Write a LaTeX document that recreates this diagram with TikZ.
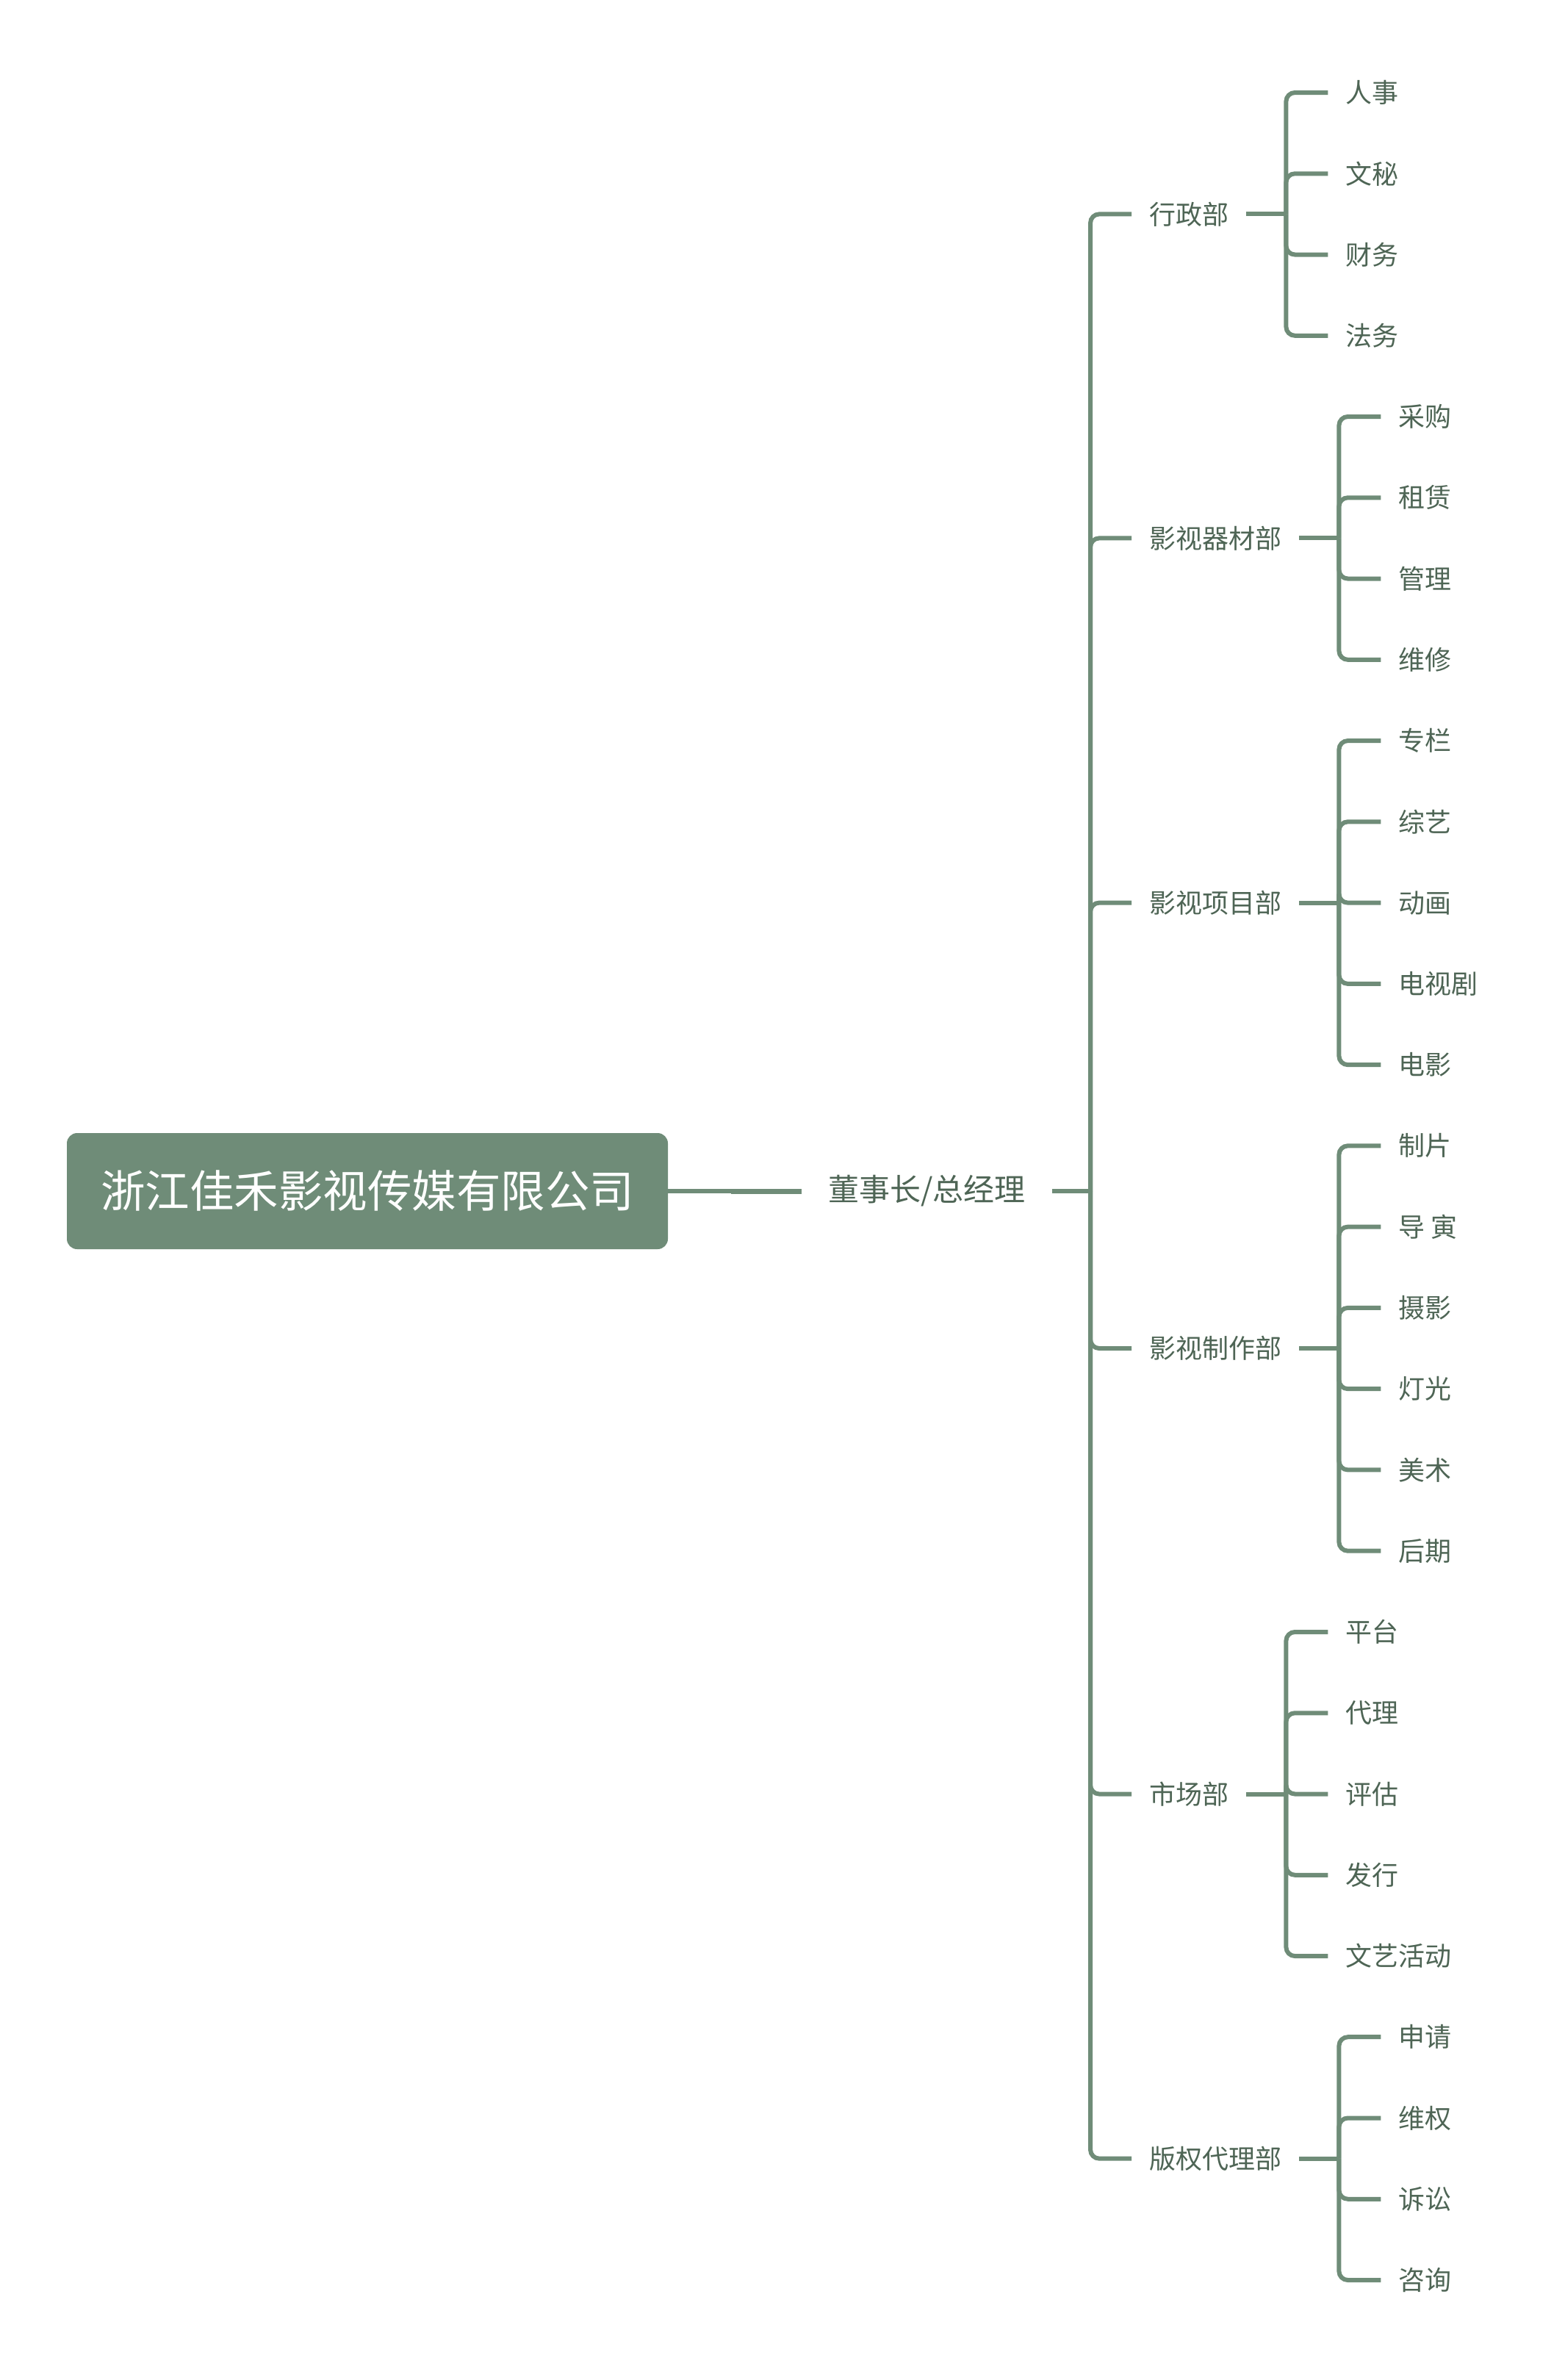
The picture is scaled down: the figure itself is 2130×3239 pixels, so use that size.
\documentclass[tikz,border=0pt]{standalone}
\usepackage{fontspec}
\setmainfont{Noto Sans CJK SC}
\usepackage{tikz}
\usetikzlibrary{positioning}
\definecolor{branchgreen}{HTML}{6F8C78}
\definecolor{labelgreen}{HTML}{4E6555}

\begin{document}
\begin{tikzpicture}[x=1pt, y=-1pt,
    conn/.style={draw=branchgreen, line width=6pt, rounded corners=12pt},
    topic/.style={text=labelgreen, font=\fontsize{36pt}{40pt}\selectfont,
                  inner xsep=24pt, inner ysep=6pt, anchor=west},
  ]
  \useasboundingbox (0,0) rectangle (2130,3239);

  \node[fill=branchgreen, text=white, rounded corners=14pt, minimum height=158pt,
        inner xsep=46pt, font=\fontsize{60.5pt}{64pt}\selectfont] (root) at (500,1621)
        {浙江佳禾影视传媒有限公司};
  \node[text=labelgreen, inner xsep=36pt, font=\fontsize{42pt}{46pt}\selectfont,
        right=182pt of root] (chair) {董事长/总经理};
  \coordinate[right=52pt of chair] (trunk);

  \draw[conn] (root) -- (chair);
  \draw[conn, line width=7pt] ([xshift=-96pt]chair.west) -- (chair);
  \draw[conn] (chair) -- (trunk);

  % departments
  \node[topic] (admin)  at (1540,291.4)  {行政部};
  \node[topic] (equip)  at (1540,732.4)  {影视器材部};
  \node[topic] (proj)   at (1540,1228.6) {影视项目部};
  \node[topic] (prod)   at (1540,1835.0) {影视制作部};
  \node[topic] (market) at (1540,2441.5) {市场部};
  \node[topic] (rights) at (1540,2937.6) {版权代理部};

  \foreach \d in {admin,equip,proj,prod,market,rights}{
    \draw[conn] (trunk) |- (\d);
    \coordinate[right=54pt of \d] (\d-j);
    \draw[conn] (\d) -- (\d-j);
  }

  % leaves
  \foreach \lbl [count=\k] in {人事,文秘,财务,法务}{
    \node[topic, right=57pt of admin-j, yshift={(2.5-\k)*110.26pt}] (admin-\k) {\lbl};
    \draw[conn] (admin-j) |- (admin-\k);
  }
  \foreach \lbl [count=\k] in {采购,租赁,管理,维修}{
    \node[topic, right=57pt of equip-j, yshift={(2.5-\k)*110.26pt}] (equip-\k) {\lbl};
    \draw[conn] (equip-j) |- (equip-\k);
  }
  \foreach \lbl [count=\k] in {专栏,综艺,动画,电视剧,电影}{
    \node[topic, right=57pt of proj-j, yshift={(3-\k)*110.26pt}] (proj-\k) {\lbl};
    \draw[conn] (proj-j) |- (proj-\k);
  }
  \foreach \lbl [count=\k] in {制片,导 寅,摄影,灯光,美术,后期}{
    \node[topic, right=57pt of prod-j, yshift={(3.5-\k)*110.26pt}] (prod-\k) {\lbl};
    \draw[conn] (prod-j) |- (prod-\k);
  }
  \foreach \lbl [count=\k] in {平台,代理,评估,发行,文艺活动}{
    \node[topic, right=57pt of market-j, yshift={(3-\k)*110.26pt}] (market-\k) {\lbl};
    \draw[conn] (market-j) |- (market-\k);
  }
  \foreach \lbl [count=\k] in {申请,维权,诉讼,咨询}{
    \node[topic, right=57pt of rights-j, yshift={(2.5-\k)*110.26pt}] (rights-\k) {\lbl};
    \draw[conn] (rights-j) |- (rights-\k);
  }
\end{tikzpicture}
\end{document}
